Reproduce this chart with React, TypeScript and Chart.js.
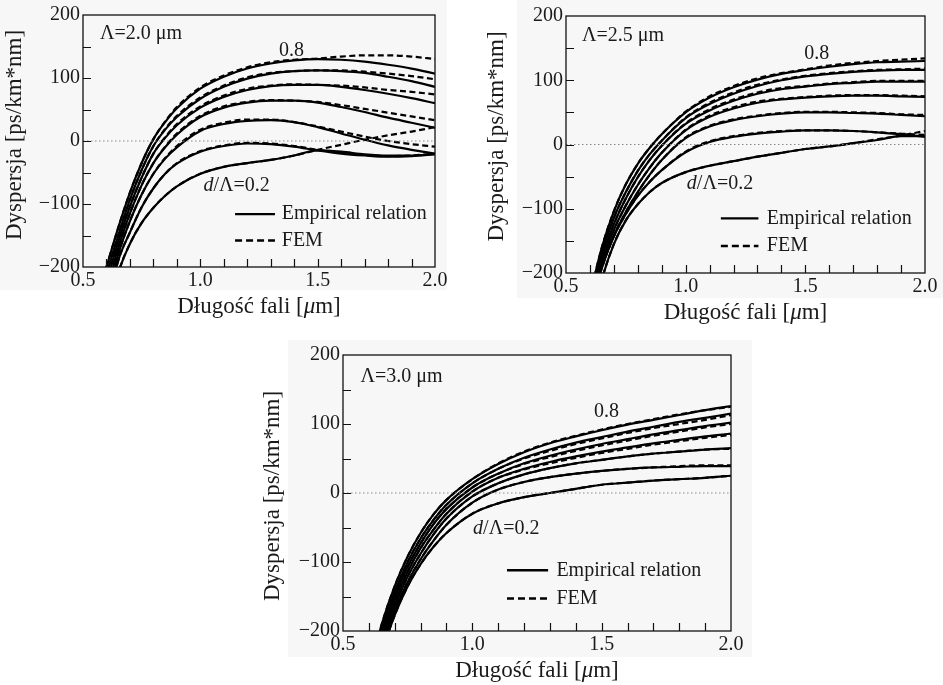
import React, { useEffect, useRef } from "react";
import { Chart, registerables } from "chart.js";

Chart.register(...registerables);

// ---------- DATA ----------
const wavelength = [0.6, 0.65, 0.7, 0.75, 0.8, 0.85, 0.9, 1.0, 1.1, 1.2, 1.3, 1.4, 1.5, 1.6, 1.7, 1.8, 1.9, 2.0];
const ratios = ["0.8", "0.7", "0.6", "0.5", "0.4", "0.3", "0.2"];

// Λ = 2.0 µm
const emp20_08 = [-200, -138, -82, -35, 3, 30, 52, 83, 102, 115, 123, 128, 130, 129, 126, 121, 115, 107];
const emp20_07 = [-212, -150, -93, -46, -8, 18, 38, 67, 86, 99, 107, 111, 112, 111, 108, 102, 95, 86];
const emp20_06 = [-225, -160, -104, -58, -20, 5, 25, 53, 70, 81, 87, 89, 89, 86, 81, 75, 68, 60];
const emp20_05 = [-240, -170, -115, -70, -35, -10, 10, 38, 53, 61, 64, 64, 61, 54, 46, 37, 29, 21];
const emp20_04 = [-255, -180, -127, -85, -52, -28, -10, 16, 27, 32, 33, 30, 22, 12, 2, -7, -14, -20];
const emp20_03 = [-270, -190, -145, -105, -75, -52, -36, -17, -8, -4, -5, -9, -15, -20, -23, -25, -24, -21];
const emp20_02 = [-290, -210, -163, -130, -106, -87, -72, -52, -41, -35, -30, -23, -15, -17, -21, -23, -23, -21];
const fem20_08 = [-200, -138, -82, -35, 3, 31, 54, 85, 104, 117, 125, 129, 131, 134, 136, 136, 134, 130];
const fem20_07 = [-212, -150, -93, -46, -8, 19, 40, 69, 88, 101, 108, 111, 112, 112, 110, 107, 103, 98];
const fem20_06 = [-225, -160, -104, -58, -20, 6, 27, 55, 72, 83, 88, 90, 89, 88, 85, 81, 78, 74];
const fem20_05 = [-240, -170, -115, -70, -35, -9, 12, 40, 55, 62, 65, 64, 62, 57, 51, 45, 39, 33];
const fem20_04 = [-255, -180, -127, -85, -52, -27, -8, 18, 29, 34, 34, 30, 23, 15, 7, 0, -5, -9];
const fem20_03 = [-270, -190, -145, -105, -75, -52, -35, -16, -7, -3, -4, -8, -14, -19, -22, -24, -23, -20];
const fem20_02 = [-290, -210, -163, -130, -106, -87, -72, -52, -41, -35, -30, -23, -14, -6, 2, 9, 15, 22];

// Λ = 2.5 µm
const emp25_08 = [-235, -160, -104, -62, -30, -5, 16, 50, 73, 89, 101, 110, 116, 121, 125, 128, 129, 130];
const emp25_07 = [-240, -168, -114, -74, -41, -15, 6, 41, 63, 79, 91, 100, 106, 110, 113, 115, 116, 116];
const emp25_06 = [-246, -176, -124, -84, -51, -24, -2, 32, 53, 68, 79, 86, 90, 94, 96, 98, 98, 98];
const emp25_05 = [-253, -183, -133, -95, -63, -36, -13, 22, 43, 56, 65, 70, 73, 75, 76, 76, 75, 74];
const emp25_04 = [-258, -190, -142, -105, -74, -47, -24, 10, 28, 38, 44, 48, 50, 50, 49, 48, 46, 44];
const emp25_03 = [-260, -192, -143, -108, -80, -58, -40, -12, 4, 12, 17, 20, 22, 22, 21, 19, 16, 12];
const emp25_02 = [-290, -210, -155, -118, -93, -74, -60, -43, -33, -26, -19, -13, -7, -3, 2, 7, 13, 13];
const fem25_08 = [-235, -160, -104, -62, -30, -5, 16, 51, 75, 91, 103, 111, 117, 123, 127, 130, 132, 134];
const fem25_07 = [-240, -168, -114, -74, -41, -15, 6, 42, 65, 81, 93, 101, 107, 111, 114, 116, 117, 118];
const fem25_06 = [-246, -176, -124, -84, -51, -24, -2, 33, 55, 70, 81, 88, 91, 95, 97, 99, 99, 99];
const fem25_05 = [-253, -183, -133, -95, -63, -36, -13, 23, 45, 58, 67, 71, 74, 76, 77, 77, 76, 75];
const fem25_04 = [-258, -190, -142, -105, -74, -47, -24, 11, 29, 39, 45, 49, 51, 51, 50, 49, 47, 46];
const fem25_03 = [-260, -192, -143, -108, -80, -58, -40, -11, 5, 13, 18, 21, 22, 22, 21, 19, 17, 15];
const fem25_02 = [-290, -210, -155, -118, -93, -74, -60, -43, -33, -26, -19, -13, -7, -3, 2, 8, 14, 21];

// Λ = 3.0 µm
const emp30_08 = [-262, -190, -135, -92, -58, -31, -10, 20, 42, 59, 72, 82, 91, 99, 106, 113, 120, 126];
const emp30_07 = [-270, -198, -143, -100, -66, -39, -17, 14, 35, 51, 63, 73, 81, 89, 96, 103, 109, 115];
const emp30_06 = [-278, -205, -150, -107, -73, -45, -23, 8, 28, 43, 54, 63, 71, 78, 85, 91, 97, 102];
const emp30_05 = [-285, -212, -157, -114, -80, -53, -30, 2, 22, 35, 45, 53, 60, 66, 72, 77, 82, 86];
const emp30_04 = [-290, -218, -164, -121, -88, -60, -37, -5, 14, 27, 36, 43, 48, 53, 57, 60, 63, 65];
const emp30_03 = [-295, -224, -171, -129, -96, -69, -46, -14, 5, 16, 23, 28, 32, 35, 37, 38, 39, 39];
const emp30_02 = [-305, -232, -177, -135, -103, -78, -58, -30, -15, -6, 0, 6, 12, 15, 18, 20, 22, 25];
const fem30_08 = [-262, -190, -135, -92, -58, -31, -10, 20, 43, 60, 73, 83, 92, 100, 107, 114, 120, 125];
const fem30_07 = [-270, -198, -143, -100, -66, -39, -17, 14, 35, 50, 61, 71, 79, 87, 94, 100, 106, 113];
const fem30_06 = [-278, -205, -150, -107, -73, -45, -23, 8, 28, 42, 52, 61, 69, 76, 83, 89, 95, 100];
const fem30_05 = [-285, -212, -157, -114, -80, -53, -30, 2, 22, 34, 43, 51, 58, 64, 70, 75, 80, 84];
const fem30_04 = [-290, -218, -164, -121, -88, -60, -37, -5, 14, 27, 36, 43, 48, 53, 57, 60, 63, 64];
const fem30_03 = [-295, -224, -171, -129, -96, -69, -46, -14, 5, 16, 23, 28, 32, 35, 37, 39, 40, 40];
const fem30_02 = [-305, -232, -177, -135, -103, -78, -58, -30, -15, -6, 0, 6, 12, 15, 18, 20, 22, 25];

const zeroLineX = [0.5, 2.0];
const zeroLineY = [0, 0];

const xTickMarks = [0.6, 0.7, 0.8, 0.9, 1.0, 1.1, 1.2, 1.3, 1.4, 1.5, 1.6, 1.7, 1.8, 1.9];
const yTickMarks = [-150, -100, -50, 0, 50, 100, 150];

const yTitle = "Dyspersja [ps/km*nm]";
const legendSolid = "Empirical relation";
const legendDashed = "FEM";

// ---------- STYLE / LAYOUT ----------
const FONT = '"Liberation Serif", "Times New Roman", Times, serif';
const TEXT = "#1a1a1a";

type Panel = {
  pitch: string;
  emp: number[][];
  fem: number[][];
  left: number; top: number; width: number; height: number;
  yWidth: number; pad: { top: number; right: number; bottom: number };
  pitchPos: [number, number];
  topLabelPos: [number, number];
  botLabelPos: [number, number];
  legend: { x0: number; x1: number; xt: number; y1: number; y2: number };
  yTitleDx: number; yTitleDy: number;
};

const panels: Panel[] = [
  {
    pitch: "2.0",
    emp: [emp20_08, emp20_07, emp20_06, emp20_05, emp20_04, emp20_03, emp20_02],
    fem: [fem20_08, fem20_07, fem20_06, fem20_05, fem20_04, fem20_03, fem20_02],
    left: 0, top: 0, width: 460, height: 325, yWidth: 83,
    pad: { top: 14, right: 25, bottom: 18 },
    pitchPos: [0.572, 169.5], topLabelPos: [1.389, 144], botLabelPos: [1.013, -71],
    legend: { x0: 1.148, x1: 1.318, xt: 1.347, y1: -116, y2: -158 },
    yTitleDx: -68, yTitleDy: -6,
  },
  {
    pitch: "2.5",
    emp: [emp25_08, emp25_07, emp25_06, emp25_05, emp25_04, emp25_03, emp25_02],
    fem: [fem25_08, fem25_07, fem25_06, fem25_05, fem25_04, fem25_03, fem25_02],
    left: 470, top: 0, width: 473, height: 330, yWidth: 96,
    pad: { top: 16, right: 18, bottom: 17 },
    pitchPos: [0.567, 170], topLabelPos: [1.548, 141.5], botLabelPos: [1.005, -61],
    legend: { x0: 1.147, x1: 1.304, xt: 1.339, y1: -115, y2: -158 },
    yTitleDx: -69, yTitleDy: -8,
  },
  {
    pitch: "3.0",
    emp: [emp30_08, emp30_07, emp30_06, emp30_05, emp30_04, emp30_03, emp30_02],
    fem: [fem30_08, fem30_07, fem30_06, fem30_05, fem30_04, fem30_03, fem30_02],
    left: 255, top: 335, width: 500, height: 350, yWidth: 88,
    pad: { top: 20, right: 24, bottom: 14 },
    pitchPos: [0.568, 168.5], topLabelPos: [1.519, 117.7], botLabelPos: [1.003, -51.5],
    legend: { x0: 1.134, x1: 1.293, xt: 1.325, y1: -112, y2: -153 },
    yTitleDx: -70, yTitleDy: 3,
  },
];

const grayBoxes = [
  { left: 0, top: 0, width: 447, height: 290 },
  { left: 517, top: 0, width: 426, height: 298 },
  { left: 288, top: 340, width: 464, height: 317 },
];

type Run = [string, boolean];

function drawRuns(ctx: CanvasRenderingContext2D, runs: Run[], x: number, y: number, align: "left" | "center", size: number) {
  const fonts = runs.map(([, it]) => `${it ? "italic " : ""}${size}px ${FONT}`);
  let total = 0;
  const widths = runs.map(([t], i) => {
    ctx.font = fonts[i];
    const w = ctx.measureText(t).width;
    total += w;
    return w;
  });
  let cx = align === "center" ? x - total / 2 : x;
  ctx.textAlign = "left";
  ctx.textBaseline = "middle";
  runs.forEach(([t], i) => {
    ctx.font = fonts[i];
    ctx.fillText(t, cx, y);
    cx += widths[i];
  });
}

function makeDecor(p: Panel) {
  return {
    id: "decor",
    afterDraw(chart: any) {
      const { ctx, chartArea: a, scales } = chart;
      const xs = scales.x;
      const ys = scales.y;
      ctx.save();
      // frame
      ctx.strokeStyle = "#111";
      ctx.lineWidth = 1.3;
      ctx.setLineDash([]);
      ctx.strokeRect(a.left, a.top, a.right - a.left, a.bottom - a.top);
      // inner ticks
      ctx.lineWidth = 1.2;
      ctx.beginPath();
      for (const v of xTickMarks) {
        const px = Math.round(xs.getPixelForValue(v)) + 0.5;
        ctx.moveTo(px, a.bottom);
        ctx.lineTo(px, a.bottom - 8);
      }
      for (const v of yTickMarks) {
        const py = Math.round(ys.getPixelForValue(v)) + 0.5;
        ctx.moveTo(a.left, py);
        ctx.lineTo(a.left + 8, py);
      }
      ctx.stroke();

      ctx.fillStyle = TEXT;
      drawRuns(ctx, [["Λ=" + p.pitch + " μm", false]], xs.getPixelForValue(p.pitchPos[0]), ys.getPixelForValue(p.pitchPos[1]), "left", 20);
      drawRuns(ctx, [[ratios[0], false]], xs.getPixelForValue(p.topLabelPos[0]), ys.getPixelForValue(p.topLabelPos[1]), "center", 20);
      drawRuns(ctx, [["d", true], ["/Λ=" + ratios[6], false]], xs.getPixelForValue(p.botLabelPos[0]), ys.getPixelForValue(p.botLabelPos[1]), "left", 20);

      // legend
      const lx0 = xs.getPixelForValue(p.legend.x0);
      const lx1 = xs.getPixelForValue(p.legend.x1);
      const lxt = xs.getPixelForValue(p.legend.xt);
      const ly1 = ys.getPixelForValue(p.legend.y1);
      const ly2 = ys.getPixelForValue(p.legend.y2);
      ctx.strokeStyle = "#000";
      ctx.lineWidth = 2.4;
      ctx.beginPath();
      ctx.moveTo(lx0, ly1);
      ctx.lineTo(lx1, ly1);
      ctx.stroke();
      ctx.setLineDash([7, 4]);
      ctx.beginPath();
      ctx.moveTo(lx0, ly2);
      ctx.lineTo(lx1, ly2);
      ctx.stroke();
      ctx.setLineDash([]);
      drawRuns(ctx, [[legendSolid, false]], lxt, ly1, "left", 20);
      drawRuns(ctx, [[legendDashed, false]], lxt, ly2, "left", 20);

      // x title
      drawRuns(ctx, [["Długość fali [", false], ["μ", true], ["m]", false]], (a.left + a.right) / 2, a.bottom + 40, "center", 23);
      // y title
      ctx.save();
      ctx.translate(a.left + p.yTitleDx, (a.top + a.bottom) / 2 + p.yTitleDy);
      ctx.rotate(-Math.PI / 2);
      drawRuns(ctx, [[yTitle, false]], 0, 0, "center", 23);
      ctx.restore();

      ctx.restore();
    },
  };
}

function toPoints(ys: number[]) {
  return wavelength.map((x, i) => ({ x, y: ys[i] }));
}

function PanelChart({ p }: { p: Panel }) {
  const ref = useRef<HTMLCanvasElement | null>(null);
  useEffect(() => {
    if (!ref.current) return;
    const datasets: any[] = [
      {
        data: zeroLineX.map((x, i) => ({ x, y: zeroLineY[i] })),
        borderColor: "#8a8a8a",
        borderWidth: 1,
        borderDash: [1.5, 2.5],
        pointRadius: 0,
      },
    ];
    p.fem.forEach((ys, i) => {
      datasets.push({
        label: "FEM " + ratios[i],
        data: toPoints(ys),
        borderColor: "#000",
        borderWidth: 2.2,
        borderDash: [6, 3.5],
        pointRadius: 0,
        cubicInterpolationMode: "monotone",
      });
    });
    p.emp.forEach((ys, i) => {
      datasets.push({
        label: "Empirical " + ratios[i],
        data: toPoints(ys),
        borderColor: "#000",
        borderWidth: 2.2,
        pointRadius: 0,
        cubicInterpolationMode: "monotone",
      });
    });
    const tickFont = { family: FONT, size: 20 };
    const chart = new Chart(ref.current, {
      type: "line",
      data: { datasets },
      options: {
        animation: false,
        responsive: false,
        devicePixelRatio: 1,
        layout: { padding: { left: 0, top: p.pad.top, right: p.pad.right, bottom: p.pad.bottom } },
        plugins: { legend: { display: false }, tooltip: { enabled: false } },
        scales: {
          x: {
            type: "linear",
            min: 0.5,
            max: 2.0,
            grid: { display: false, drawTicks: false },
            border: { display: false },
            ticks: {
              stepSize: 0.5,
              color: TEXT,
              font: tickFont,
              padding: 2,
              maxRotation: 0,
              autoSkip: false,
              callback: (v: any) => Number(v).toFixed(1),
            },
            afterFit: (s: any) => { s.height = 40; },
          },
          y: {
            type: "linear",
            min: -200,
            max: 200,
            grid: { display: false, drawTicks: false },
            border: { display: false },
            ticks: {
              stepSize: 100,
              color: TEXT,
              font: tickFont,
              padding: 3,
              callback: (v: any) => (Number(v) < 0 ? "−" + Math.abs(Number(v)) : String(v)),
            },
            afterFit: (s: any) => { s.width = p.yWidth; },
          },
        },
      },
      plugins: [makeDecor(p)],
    });
    return () => chart.destroy();
  }, [p]);
  return (
    <canvas
      ref={ref}
      width={p.width}
      height={p.height}
      style={{ position: "absolute", left: p.left, top: p.top, width: p.width, height: p.height }}
    />
  );
}

export default function App() {
  return (
    <div style={{ position: "absolute", left: 0, top: 0, width: 943, height: 685, background: "#fff", overflow: "hidden" }}>
      {grayBoxes.map((b, i) => (
        <div key={i} style={{ position: "absolute", left: b.left, top: b.top, width: b.width, height: b.height, background: "#f7f7f7" }} />
      ))}
      {panels.map((p, i) => (
        <PanelChart key={i} p={p} />
      ))}
    </div>
  );
}
